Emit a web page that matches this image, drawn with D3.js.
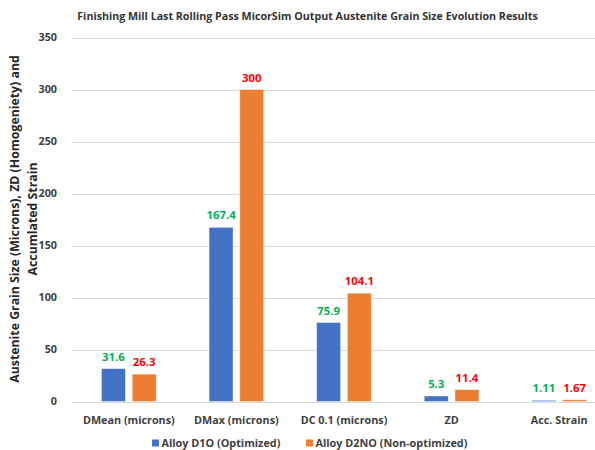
<!DOCTYPE html>
<html><head><meta charset="utf-8">
<script src="https://cdn.jsdelivr.net/npm/d3@7"></script>
<style>
body{margin:0;background:#fff;}
text{font-family:"Open Sans",sans-serif;font-weight:bold;}
</style></head>
<body>
<svg id="c" width="595" height="450"></svg>
<script>
const categories = ["DMean (microns)", "DMax (microns)", "DC 0.1 (microns)", "ZD", "Acc. Strain"];
const seriesNames = ["Alloy D1O (Optimized)", "Alloy D2NO (Non-optimized)"];
const optimized = [31.6, 167.4, 75.9, 5.3, 1.11];
const nonOptimized = [26.3, 300, 104.1, 11.4, 1.67];
const labelsOptimized = ["31.6", "167.4", "75.9", "5.3", "1.11"];
const labelsNonOptimized = ["26.3", "300", "104.1", "11.4", "1.67"];
const yTicks = [0, 50, 100, 150, 200, 250, 300, 350];
const barColors = ["#4472C4", "#ED7D31"];
const labelColors = ["#00B050", "#FF0000"];

const svg = d3.select("#c");
const FONT = '"Open Sans", sans-serif';

// font-size that gives a reference string a target width
function fitSize(str, target, base) {
  const t = svg.append("text").style("font-family", FONT).style("font-weight", "bold")
    .attr("font-size", base).text(str);
  const w = t.node().getComputedTextLength();
  t.remove();
  return base * target / w;
}
const fsTitle = fitSize("Finishing Mill Last Rolling Pass MicorSim Output Austenite Grain Size Evolution Results", 461, 10);
const fsYTitle = fitSize("Austenite Grain Size (Microns), ZD (Homogeniety) and", 328, 12);
const fsCat = fitSize("DMean (microns)", 92, 11);
const fsLeg = fitSize("Alloy D1O (Optimized)", 119, 11);
const fsVal = fitSize("31.6", 22.7, 11);
const fsTick = fitSize("350", 18.5, 11);

const x0 = d3.scaleBand().domain(categories).range([75, 613]);
const bw = x0.bandwidth();
const x1 = d3.scaleBand().domain(seriesNames).range([bw*0.246, bw*0.754]).paddingInner(0.22);
const y = d3.scaleLinear().domain([0, 350]).range([401.5, 37.5]);

// gridlines
svg.append("g").selectAll("line").data(yTicks).join("line")
  .attr("x1", 72).attr("x2", 595)
  .attr("y1", d => Math.round(y(d))+0.5).attr("y2", d => Math.round(y(d))+0.5)
  .attr("stroke", "#d9d9d9").attr("stroke-width", 1);

// y axis labels
const yAxis = d3.axisLeft(y).tickValues(yTicks).tickSize(0).tickPadding(0);
const gy = svg.append("g").attr("transform", "translate(57,0)").call(yAxis);
gy.select(".domain").remove();
gy.selectAll("text").attr("font-size", fsTick).attr("fill", "#404040")
  .style("font-family", FONT).style("font-weight", "bold");

// bars
const data = categories.map((c, i) => ({c, vals: [
  {s: seriesNames[0], v: optimized[i], l: labelsOptimized[i], k: 0},
  {s: seriesNames[1], v: nonOptimized[i], l: labelsNonOptimized[i], k: 1}]}));
const g = svg.append("g").selectAll("g").data(data).join("g")
  .attr("transform", d => `translate(${x0(d.c)},0)`);
g.selectAll("rect").data(d => d.vals).join("rect")
  .attr("x", d => x1(d.s)).attr("width", x1.bandwidth())
  .attr("y", d => y(d.v)).attr("height", d => y(0) - y(d.v))
  .attr("fill", d => barColors[d.k]).attr("stroke", "#fff").attr("stroke-opacity", 0.5).attr("stroke-width", 0.75);
g.selectAll("text").data(d => d.vals).join("text")
  .attr("x", d => x1(d.s) + x1.bandwidth()/2).attr("y", d => y(d.v) - 8)
  .attr("text-anchor", "middle").attr("font-size", fsVal).attr("fill", d => labelColors[d.k])
  .text(d => d.l);

// x axis labels
const xAxis = d3.axisBottom(x0).tickSize(0).tickPadding(0);
const gx = svg.append("g").attr("transform", "translate(0,423.5)").call(xAxis);
gx.select(".domain").remove();
gx.selectAll("text").attr("dy", 0).attr("font-size", fsCat).attr("fill", "#404040")
  .style("font-family", FONT).style("font-weight", "bold");

// title
svg.append("text").attr("x", 307.5).attr("y", 20).attr("text-anchor", "middle")
  .attr("font-size", fsTitle).attr("fill", "#333").text("Finishing Mill Last Rolling Pass MicorSim Output Austenite Grain Size Evolution Results");

// y title
const yt = svg.append("text").attr("transform", "translate(0,219) rotate(-90)")
  .attr("text-anchor", "middle").attr("font-size", fsYTitle).attr("fill", "#262626");
yt.append("tspan").attr("x", 0).attr("y", 19).text("Austenite Grain Size (Microns), ZD (Homogeniety) and");
yt.append("tspan").attr("x", 0).attr("y", 37).text("Accumlated Strain");

// legend
const legX = [152, 306];
const lg = svg.append("g").selectAll("g").data(seriesNames).join("g")
  .attr("transform", (d, i) => `translate(${legX[i]},443)`);
lg.append("rect").attr("x", 0).attr("y", -3.5).attr("width", 7).attr("height", 7).attr("fill", (d, i) => barColors[i]);
lg.append("text").attr("x", 9.5).attr("y", 4).attr("font-size", fsLeg).attr("fill", "#404040").text(d => d);
</script>
</body></html>
